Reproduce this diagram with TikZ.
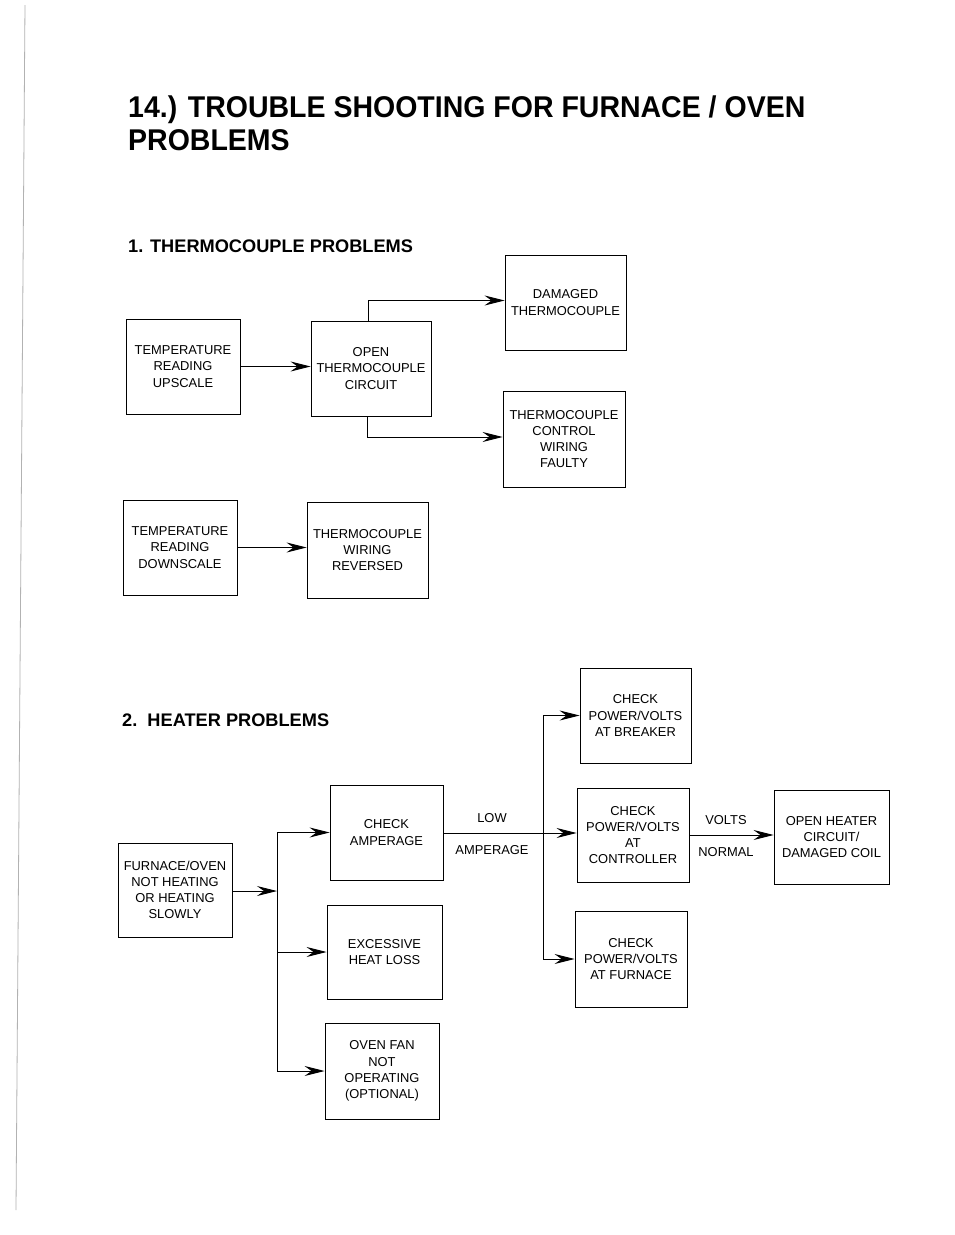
\documentclass[tikz,border=0pt]{standalone}
\usepackage{fontspec}
\setmainfont{Liberation Sans}
\usetikzlibrary{arrows.meta,calc}
\begin{document}
\begin{tikzpicture}[x=1pt,y=-1pt,
  box/.style={draw=black,line width=0.9pt,rectangle,align=center,inner sep=0pt,
    font=\fontsize{12.9}{16.2}\selectfont},
  arr/.style={line width=0.9pt,-{Stealth[length=20pt,width=10pt,inset=7pt]}},
  conn/.style={line width=0.9pt},
  lbl/.style={inner sep=0pt,font=\fontsize{12.9}{15}\selectfont},
  ttl/.style={inner sep=0pt,anchor=base west,font=\bfseries\fontsize{30}{30}\selectfont},
  sec/.style={inner sep=0pt,anchor=base west,font=\bfseries\fontsize{18.2}{18}\selectfont}]
\useasboundingbox[fill=white] (0,0) rectangle (954,1235);
\draw[gray!60,line width=0.8pt] (25,5) -- (16,1210);

% titles
\node[ttl] (t1) at (128,117) {\scalebox{0.95}[1]{14.) TROUBLE SHOOTING FOR FURNACE / OVEN}};
\node[ttl] (t2) at (128,150) {\scalebox{0.95}[1]{PROBLEMS}};
\node[sec] (s1) at (128,252) {1. THERMOCOUPLE PROBLEMS};
\node[sec] (s2) at (122,726) {2.\ \ HEATER PROBLEMS};

% section 1
\node[box,minimum width=114pt,minimum height=95pt] (up) at (183,366.5) {TEMPERATURE\\READING\\UPSCALE};
\node[box,minimum width=120pt,minimum height=95pt] (open) at (371,368.5) {OPEN\\THERMOCOUPLE\\CIRCUIT};
\node[box,minimum width=121pt,minimum height=95pt] (dam) at (565.5,302.5) {DAMAGED\\THERMOCOUPLE};
\node[box,minimum width=122pt,minimum height=96pt] (ctrl) at (564,439) {THERMOCOUPLE\\CONTROL\\WIRING\\FAULTY};
\node[box,minimum width=114pt,minimum height=95pt] (down) at (180,547.5) {TEMPERATURE\\READING\\DOWNSCALE};
\node[box,minimum width=121pt,minimum height=96pt] (rev) at (367.5,550) {THERMOCOUPLE\\WIRING\\REVERSED};

\draw[arr] (up.east) -- (open.west |- up.east);
\draw[arr] ([xshift=-3pt]open.north) |- ([yshift=2pt]dam.west);
\draw[arr] ([xshift=-4pt]open.south) |- ([yshift=2pt]ctrl.west);
\draw[arr] (down.east) -- (rev.west |- down.east);

% section 2
\node[box,minimum width=114pt,minimum height=94pt] (furn) at (175,890) {FURNACE/OVEN\\NOT HEATING\\OR HEATING\\SLOWLY};
\node[box,minimum width=113pt,minimum height=95pt] (amp) at (386.5,832.5) {CHECK\\AMPERAGE};
\node[box,minimum width=115pt,minimum height=94pt] (loss) at (384.5,952) {EXCESSIVE\\HEAT LOSS};
\node[box,minimum width=114pt,minimum height=96pt] (fan) at (382,1071) {OVEN FAN\\NOT\\OPERATING\\(OPTIONAL)};
\node[box,minimum width=111pt,minimum height=95pt] (brk) at (635.5,715.5) {CHECK\\POWER/VOLTS\\AT BREAKER};
\node[box,minimum width=112pt,minimum height=94pt] (cont) at (633,835) {CHECK\\POWER/VOLTS\\AT\\CONTROLLER};
\node[box,minimum width=112pt,minimum height=96pt] (cfur) at (631,959) {CHECK\\POWER/VOLTS\\AT FURNACE};
\node[box,minimum width=115pt,minimum height=94pt] (heat) at (831.5,837) {OPEN HEATER\\CIRCUIT/\\DAMAGED COIL};

\node[lbl] (low) at (492,818) {LOW};
\node[lbl] (ampl) at (492,850) {AMPERAGE};
\node[lbl] (volts) at (726,820) {VOLTS};
\node[lbl] (norm) at (726,852) {NORMAL};

\coordinate (tr) at (277,891);
\draw[arr] (furn.east |- tr) -- (tr);
\draw[conn] (tr |- amp.west) -- (tr |- fan.west);
\draw[arr] (tr |- amp.west) -- (amp.west);
\draw[arr] (tr |- loss.west) -- (loss.west);
\draw[arr] (tr |- fan.west) -- (fan.west);

\coordinate (tr2) at (543,833);
\draw[arr] (amp.east |- tr2) -- (cont.west |- tr2);
\draw[conn] (tr2 |- brk.west) -- (tr2 |- cfur.west);
\draw[arr] (tr2 |- brk.west) -- (brk.west);
\draw[arr] (tr2 |- cfur.west) -- (cfur.west);

\draw[arr] (cont.east) -- (heat.west |- cont.east);
\end{tikzpicture}
\end{document}
